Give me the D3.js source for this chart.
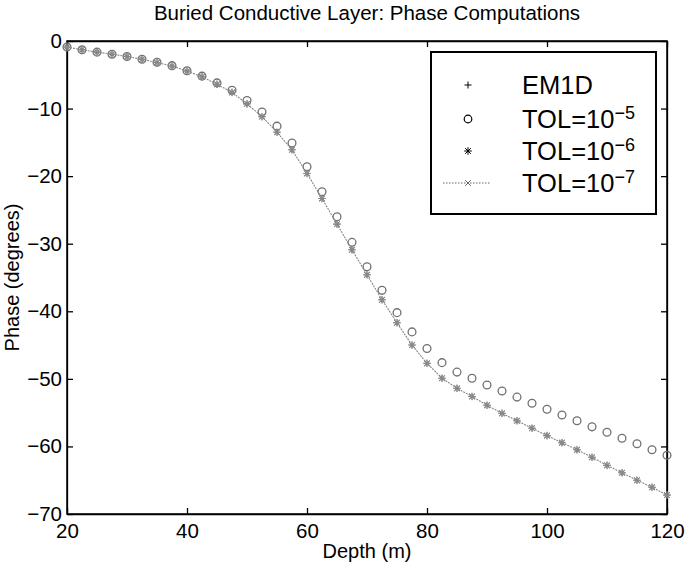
<!DOCTYPE html>
<html>
<head>
<meta charset="utf-8">
<script src="https://cdn.jsdelivr.net/npm/d3@7"></script>
<style>
    body { margin: 0; background: #fff; }
    text { font-family: "Liberation Sans", Arial, sans-serif; fill: #000; }
</style>
</head>
<body>
<div id="chart"></div>
<script>

// depth (m), one sample every 2.5 m
var depth = [20, 22.5, 25, 27.5, 30, 32.5, 35, 37.5, 40, 42.5, 45, 47.5, 50, 52.5, 55, 57.5, 60,
    62.5, 65, 67.5, 70, 72.5, 75, 77.5, 80, 82.5, 85, 87.5, 90, 92.5, 95, 97.5, 100,
    102.5, 105, 107.5, 110, 112.5, 115, 117.5, 120];

// phase (degrees)
var em1dPhase = [-0.9, -1.3, -1.65, -1.95, -2.3, -2.7, -3.2, -3.7, -4.45, -5.3, -6.4, -7.6, -9.3, -11.2,
    -13.5, -16.1, -19.6, -23.3, -27.1, -30.9, -34.6, -38.3, -41.7, -45.0, -47.7, -49.9, -51.4,
    -52.6, -53.9, -55.1, -56.2, -57.3, -58.4, -59.45, -60.5, -61.6, -62.8, -63.9, -65.0, -66.05, -67.2];

var tol5Phase = [-0.9, -1.3, -1.65, -1.95, -2.3, -2.7, -3.15, -3.65, -4.4, -5.2, -6.2, -7.3, -8.8, -10.5,
    -12.6, -15.1, -18.6, -22.3, -26.0, -29.8, -33.4, -36.9, -40.2, -43.05, -45.5, -47.6, -49.0,
    -49.9, -50.9, -51.8, -52.7, -53.6, -54.5, -55.35, -56.2, -57.1, -57.9, -58.8, -59.6, -60.5, -61.3];

var tol6Phase = [-0.9, -1.3, -1.65, -1.95, -2.3, -2.7, -3.2, -3.7, -4.45, -5.3, -6.4, -7.6, -9.3, -11.2,
    -13.5, -16.1, -19.6, -23.3, -27.1, -30.9, -34.6, -38.3, -41.7, -45.0, -47.7, -49.9, -51.4,
    -52.6, -53.9, -55.1, -56.2, -57.3, -58.4, -59.45, -60.5, -61.6, -62.8, -63.9, -65.0, -66.05, -67.2];

var tol7Phase = [-0.9, -1.3, -1.65, -1.95, -2.3, -2.7, -3.2, -3.7, -4.45, -5.3, -6.4, -7.6, -9.3, -11.2,
    -13.5, -16.1, -19.6, -23.3, -27.1, -30.9, -34.6, -38.3, -41.7, -45.0, -47.7, -49.9, -51.4,
    -52.6, -53.9, -55.1, -56.2, -57.3, -58.4, -59.45, -60.5, -61.6, -62.8, -63.9, -65.0, -66.05, -67.2];

var xTicks = [20, 40, 60, 80, 100, 120];
var yTicks = [0, -10, -20, -30, -40, -50, -60, -70];

var legendNames = ["EM1D", "TOL=10", "TOL=10", "TOL=10"];
var legendExps = ["", "\u22125", "\u22126", "\u22127"];


// marker paths (MATLAB style)
var markers = {
    plus: "M-3.5,0H3.5M0,-3.5V3.5",
    star: "M-3.8,0H3.8M0,-3.8V3.8M-2.8,-2.8L2.8,2.8M-2.8,2.8L2.8,-2.8",
    cross: "M-2.8,-2.8L2.8,2.8M-2.8,2.8L2.8,-2.8"
};

PhaseChart = function(_parentElement) {
    this.parentElement = _parentElement;
    this.initVis();
};

PhaseChart.prototype.initVis = function() {
    var vis = this;

    vis.margin = {top: 41, right: 18, bottom: 51, left: 67};
    vis.width = 685 - vis.margin.left - vis.margin.right;
    vis.height = 565 - vis.margin.top - vis.margin.bottom;

    vis.x = d3.scaleLinear()
        .domain([20, 120])
        .range([0, vis.width]);

    vis.y = d3.scaleLinear()
        .domain([-70, 0])
        .range([vis.height, 0]);

    vis.svg = d3.select(vis.parentElement)
        .append("svg")
        .attr("width", 685)
        .attr("height", 565);

    vis.chart = vis.svg.append("g")
        .attr("transform", "translate(" + vis.margin.left + "," + vis.margin.top + ")");

    vis.updateVis();
};

PhaseChart.prototype.updateVis = function() {
    var vis = this;

    var fmt = function(d) { return d < 0 ? "\u2212" + Math.abs(d) : d; };

    // axes, ticks pointing inward on all four sides
    vis.chart.append("g")
        .attr("class", "axis")
        .attr("transform", "translate(0," + vis.height + ")")
        .call(d3.axisBottom(vis.x).tickValues(xTicks).tickSizeInner(-6).tickSizeOuter(0).tickPadding(9));

    vis.chart.append("g")
        .attr("class", "axis")
        .call(d3.axisTop(vis.x).tickValues(xTicks).tickSizeInner(-6).tickSizeOuter(0).tickFormat(""));

    vis.chart.append("g")
        .attr("class", "axis")
        .call(d3.axisLeft(vis.y).tickValues(yTicks).tickSizeInner(-6).tickSizeOuter(0).tickPadding(5).tickFormat(fmt));

    vis.chart.append("g")
        .attr("class", "axis")
        .attr("transform", "translate(" + vis.width + ",0)")
        .call(d3.axisRight(vis.y).tickValues(yTicks).tickSizeInner(-6).tickSizeOuter(0).tickFormat(""));

    vis.chart.selectAll(".axis path, .axis line")
        .attr("stroke", "#000")
        .attr("stroke-width", 1.3);
    vis.chart.selectAll(".axis text")
        .style("font-size", "20.5px")
        .attr("fill", "#000");

    vis.chart.append("rect")
        .attr("width", vis.width)
        .attr("height", vis.height)
        .attr("fill", "none")
        .attr("stroke", "#000")
        .attr("stroke-width", 1.5);

    var pts = function(vals) {
        return depth.map(function(d, i) { return {x: d, y: vals[i]}; });
    };

    // EM1D: plus
    vis.chart.selectAll(".em1d")
        .data(pts(em1dPhase))
        .enter().append("path")
        .attr("class", "em1d")
        .attr("d", markers.plus)
        .attr("transform", function(d) { return "translate(" + vis.x(d.x) + "," + vis.y(d.y) + ")"; })
        .attr("fill", "none")
        .attr("stroke", "#888")
        .attr("stroke-width", 1);

    // TOL=1e-5: circles
    vis.chart.selectAll(".tol5")
        .data(pts(tol5Phase))
        .enter().append("circle")
        .attr("class", "tol5")
        .attr("cx", function(d) { return vis.x(d.x); })
        .attr("cy", function(d) { return vis.y(d.y); })
        .attr("r", 3.9)
        .attr("fill", "none")
        .attr("stroke", "#707070")
        .attr("stroke-width", 1.3);

    // TOL=1e-6: star
    vis.chart.selectAll(".tol6")
        .data(pts(tol6Phase))
        .enter().append("path")
        .attr("class", "tol6")
        .attr("d", markers.star)
        .attr("transform", function(d) { return "translate(" + vis.x(d.x) + "," + vis.y(d.y) + ")"; })
        .attr("fill", "none")
        .attr("stroke", "#888")
        .attr("stroke-width", 1.1);

    // TOL=1e-7: dotted line with x markers
    var line = d3.line()
        .x(function(d) { return vis.x(d.x); })
        .y(function(d) { return vis.y(d.y); });

    vis.chart.append("path")
        .datum(pts(tol7Phase))
        .attr("d", line)
        .attr("fill", "none")
        .attr("stroke", "#888")
        .attr("stroke-width", 1.1)
        .attr("stroke-dasharray", "2,1");

    vis.chart.selectAll(".tol7")
        .data(pts(tol7Phase))
        .enter().append("path")
        .attr("class", "tol7")
        .attr("d", markers.cross)
        .attr("transform", function(d) { return "translate(" + vis.x(d.x) + "," + vis.y(d.y) + ")"; })
        .attr("fill", "none")
        .attr("stroke", "#888")
        .attr("stroke-width", 1);

    // Legend
    var leg = vis.svg.append("g")
        .attr("transform", "translate(431,52)");

    leg.append("rect")
        .attr("width", 225)
        .attr("height", 162)
        .attr("fill", "#fff")
        .attr("stroke", "#000")
        .attr("stroke-width", 2);

    var rowY = [33, 67, 99, 131];

    var rows = leg.selectAll(".legRow")
        .data(legendNames)
        .enter().append("g")
        .attr("class", "legRow")
        .attr("transform", function(d, i) { return "translate(0," + rowY[i] + ")"; });

    var txt = rows.append("text")
        .attr("x", 91)
        .attr("y", 8.5)
        .style("font-size", "25.5px")
        .text(function(d) { return d; });
    txt.append("tspan")
        .attr("dy", -9)
        .style("font-size", "18px")
        .text(function(d, i) { return legendExps[i]; });

    leg.append("path")
        .attr("d", markers.plus)
        .attr("transform", "translate(37," + rowY[0] + ")")
        .attr("stroke", "#000").attr("fill", "none");
    leg.append("circle")
        .attr("cx", 37).attr("cy", rowY[1])
        .attr("r", 3.8)
        .attr("stroke", "#000").attr("stroke-width", 1.2).attr("fill", "none");
    leg.append("path")
        .attr("d", markers.star)
        .attr("transform", "translate(37," + rowY[2] + ")")
        .attr("stroke", "#000").attr("fill", "none");
    leg.append("line")
        .attr("x1", 12).attr("x2", 60)
        .attr("y1", rowY[3]).attr("y2", rowY[3])
        .attr("stroke", "#666").attr("stroke-dasharray", "1.5,1.5");
    leg.append("path")
        .attr("d", markers.cross)
        .attr("transform", "translate(37," + rowY[3] + ")")
        .attr("stroke", "#666").attr("fill", "none");

    // Titles
    vis.svg.append("text")
        .attr("x", 367)
        .attr("y", 20)
        .style("text-anchor", "middle")
        .style("font-size", "20.5px")
        .text("Buried Conductive Layer: Phase Computations");

    vis.svg.append("text")
        .attr("x", 367)
        .attr("y", 558)
        .style("text-anchor", "middle")
        .style("font-size", "20px")
        .text("Depth (m)");

    vis.svg.append("text")
        .attr("transform", "translate(19," + (vis.margin.top + vis.height / 2) + ") rotate(-90)")
        .style("text-anchor", "middle")
        .style("font-size", "20px")
        .text("Phase (degrees)");
};

new PhaseChart("#chart");
</script>
</body>
</html>
